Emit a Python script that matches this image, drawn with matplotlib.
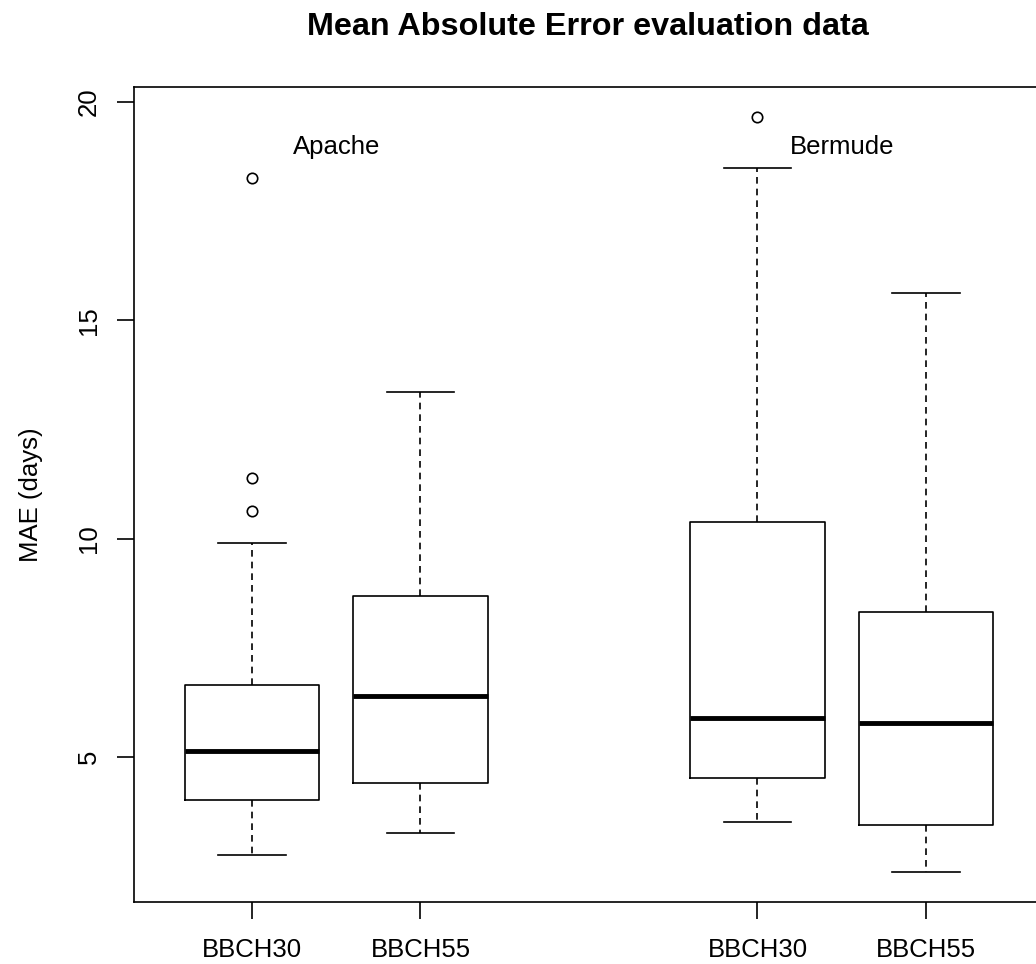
import matplotlib
matplotlib.use("Agg")
import matplotlib.pyplot as plt
from matplotlib import font_manager

# box statistics (MAE in days)
positions = [1, 2, 4, 5]
tick_labels = ["BBCH30", "BBCH55", "BBCH30", "BBCH55"]
whislo = [2.76, 3.26, 3.51, 2.37]
q1 = [4.02, 4.41, 4.52, 3.44]
med = [5.14, 6.40, 5.89, 5.78]
q3 = [6.65, 8.69, 10.38, 8.32]
whishi = [9.90, 13.36, 18.49, 15.63]
fliers = [[18.26, 11.39, 10.63], [], [19.66], []]
group_names = ["Apache", "Bermude"]
group_centers = [1.5, 4.5]

plt.rcParams["font.family"] = ["Liberation Sans", "DejaVu Sans"]

names = {f.name for f in font_manager.fontManager.ttflist}
title_font = "Liberation Sans Narrow" if "Liberation Sans Narrow" in names else "Liberation Sans"

stats = []
for i in range(len(positions)):
    stats.append({"whislo": whislo[i], "q1": q1[i], "med": med[i], "q3": q3[i],
                  "whishi": whishi[i], "fliers": fliers[i]})

fig = plt.figure(figsize=(10.36, 9.64), dpi=100)
ax = fig.add_axes([0.1293, 0.0643, 0.8784, 0.8454])

ax.bxp(stats, positions=positions, widths=0.8, showfliers=True,
       boxprops=dict(color="black", linewidth=1.2),
       medianprops=dict(color="black", linewidth=3.5, solid_capstyle="butt"),
       whiskerprops=dict(color="black", linewidth=1.2, linestyle=(0, (4, 3))),
       capprops=dict(color="black", linewidth=1.2),
       capwidths=0.4,
       flierprops=dict(marker="o", markerfacecolor="none", markeredgecolor="black",
                       markersize=7.5, markeredgewidth=1.2))

for name, xc in zip(group_names, group_centers):
    ax.text(xc, 18.97, name, ha="center", va="center", fontsize=18.5)

ax.set_xlim(0.3, 5.7)
ax.set_ylim(1.68, 20.34)
ax.set_xticks(positions)
ax.set_xticklabels(tick_labels, fontsize=18.5)
ax.set_yticks([5, 10, 15, 20])
ax.set_yticklabels(["5", "10", "15", "20"], fontsize=18.5, rotation=90, va="center")
ax.tick_params(axis="both", length=12, width=1.2, color="black")
ax.tick_params(axis="x", pad=14)
ax.tick_params(axis="y", pad=12)
for s in ax.spines.values():
    s.set_linewidth(1.2)
ax.set_ylabel("MAE (days)", fontsize=18.5, labelpad=24)
fig.text(0.5676, 0.972, "Mean Absolute Error evaluation data", ha="center", va="center",
         fontsize=23.3, fontweight="bold", family=[title_font, "DejaVu Sans"])

fig.savefig("out.png", dpi=100)
